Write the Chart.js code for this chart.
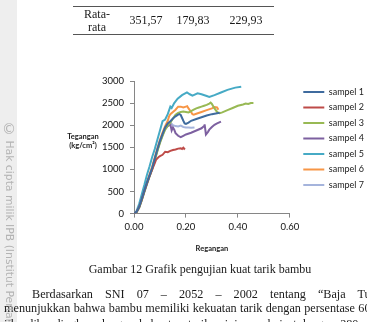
<!DOCTYPE html>
<html>
<head>
<meta charset="utf-8">
<script src="https://cdn.jsdelivr.net/npm/chart.js@4.4.1/dist/chart.umd.min.js"></script>
<style>
	html, body { margin: 0; padding: 0; width: 367px; height: 322px; overflow: hidden; background: #fff; }
	#page { position: relative; width: 367px; height: 322px; overflow: hidden; }
	#strip { position: absolute; left: 0; top: 0; width: 17px; height: 322px; background: #eeeeee; }
	#chart { position: absolute; left: 0; top: 0; }
	.serif { position: absolute; font-family: "Liberation Serif", "Times New Roman", serif; color: #1a1a1a; white-space: nowrap; }
	.rule { position: absolute; left: 73px; width: 201px; height: 1px; background: #555; }
	.cell { position: absolute; font-size: 12px; line-height: 13px; text-align: center; }
	.ytitle { position: absolute; font-family: Lato, "Open Sans", sans-serif; font-weight: bold; font-size: 7.5px; line-height: 9px; color: #222; text-align: center; width: 60px; left: 53px; top: 132px; }
	#mark { position: absolute; left: 1px; top: 121px; writing-mode: vertical-rl; font-family: "DejaVu Sans", sans-serif; font-size: 10.8px; color: #b4b4b4; white-space: nowrap; }
	#mark span { font-size: 14px; }
	.para { font-size: 12.2px; line-height: 14px; }
</style>
</head>
<body>
<div id="page">
	<div id="strip"></div>
	<canvas id="chart" width="367" height="322"></canvas>

	<div class="rule" style="top:6px"></div>
	<div class="rule" style="top:34px"></div>
	<div class="serif cell" style="left:77px; top:8px; width:40px;">Rata-<br>rata</div>
	<div class="serif cell" style="left:126px; top:14px; width:40px;">351,57</div>
	<div class="serif cell" style="left:173px; top:14px; width:40px;">179,83</div>
	<div class="serif cell" style="left:226px; top:14px; width:40px;">229,93</div>

	<div class="ytitle">Tegangan<br>(kg/cm²)</div>

	<div class="serif" style="left:0; width:400px; top:262px; font-size:12px; text-align:center;">Gambar 12 Grafik pengujian kuat tarik bambu</div>
	<div class="serif para" style="left:32px; top:287px; word-spacing:9px;">Berdasarkan SNI 07 – 2052 – 2002 tentang “Baja Tulangan Beton”</div>
	<div class="serif para" style="left:4px; top:301px; word-spacing:0.3px;">menunjukkan bahwa bambu memiliki kekuatan tarik dengan persentase 60</div>
	<div class="serif para" style="left:4px; top:317px; word-spacing:2px;">jika dibandingkan dengan kekuatan tarik minimum baja tulangan 280</div>

	<div id="mark"><span>©</span> Hak cipta milik IPB (Institut Pertanian Bogor)</div>
</div>

<script>
	// strain (Regangan) and stress (Tegangan, kg/cm2)
	var strain1 = [0, 0.01, 0.02, 0.03, 0.04, 0.05, 0.06, 0.07, 0.08, 0.09, 0.10, 0.11, 0.12, 0.13, 0.14, 0.15, 0.16, 0.17, 0.175, 0.18, 0.19, 0.195, 0.20, 0.21, 0.22, 0.24, 0.26, 0.28, 0.30, 0.32, 0.33];
	var stress1 = [0, 40, 150, 330, 520, 700, 860, 1030, 1240, 1450, 1640, 1800, 1950, 2040, 2090, 2150, 2200, 2240, 2250, 2230, 2100, 2040, 2030, 2060, 2100, 2140, 2180, 2220, 2250, 2270, 2280];

	var strain2 = [0, 0.01, 0.02, 0.03, 0.04, 0.05, 0.06, 0.07, 0.08, 0.085, 0.09, 0.095, 0.10, 0.11, 0.12, 0.13, 0.14, 0.15, 0.16, 0.17, 0.18, 0.185, 0.19, 0.196];
	var stress2 = [0, 40, 150, 320, 510, 680, 850, 1000, 1140, 1220, 1250, 1280, 1300, 1330, 1400, 1390, 1420, 1440, 1450, 1470, 1480, 1460, 1490, 1450];

	var strain3 = [0, 0.01, 0.02, 0.03, 0.04, 0.05, 0.06, 0.07, 0.08, 0.09, 0.10, 0.11, 0.12, 0.13, 0.14, 0.15, 0.16, 0.17, 0.18, 0.19, 0.20, 0.21, 0.22, 0.23, 0.24, 0.25, 0.26, 0.27, 0.28, 0.29, 0.295, 0.30, 0.31, 0.32, 0.325, 0.33, 0.34, 0.36, 0.38, 0.40, 0.42, 0.43, 0.44, 0.45, 0.46];
	var stress3 = [0, 30, 130, 300, 490, 670, 840, 1000, 1200, 1410, 1600, 1760, 1900, 1990, 2060, 2150, 2240, 2280, 2300, 2310, 2300, 2290, 2320, 2350, 2380, 2400, 2420, 2440, 2460, 2490, 2510, 2480, 2380, 2300, 2280, 2270, 2290, 2340, 2390, 2440, 2470, 2490, 2480, 2500, 2500];

	var strain4 = [0, 0.01, 0.02, 0.03, 0.04, 0.05, 0.06, 0.07, 0.08, 0.09, 0.10, 0.11, 0.12, 0.13, 0.14, 0.145, 0.15, 0.155, 0.16, 0.17, 0.18, 0.19, 0.20, 0.22, 0.24, 0.26, 0.27, 0.272, 0.277, 0.285, 0.29, 0.30, 0.31, 0.32, 0.335];
	var stress4 = [0, 30, 140, 310, 500, 680, 850, 1010, 1220, 1430, 1620, 1780, 1920, 1980, 2020, 1880, 1950, 1900, 1820, 1760, 1730, 1760, 1790, 1830, 1880, 1930, 1980, 2020, 1790, 1850, 1900, 1960, 2010, 2040, 2080];

	var strain5 = [0, 0.01, 0.02, 0.03, 0.04, 0.05, 0.06, 0.07, 0.08, 0.09, 0.10, 0.11, 0.12, 0.13, 0.14, 0.145, 0.155, 0.168, 0.185, 0.204, 0.215, 0.225, 0.245, 0.26, 0.28, 0.29, 0.31, 0.335, 0.36, 0.39, 0.413];
	var stress5 = [0, 60, 220, 440, 650, 880, 1070, 1280, 1460, 1670, 1880, 2090, 2130, 2250, 2420, 2390, 2500, 2600, 2680, 2740, 2700, 2670, 2720, 2700, 2660, 2640, 2680, 2740, 2800, 2850, 2870];

	var strain6 = [0, 0.01, 0.02, 0.03, 0.04, 0.05, 0.06, 0.07, 0.08, 0.09, 0.10, 0.11, 0.12, 0.13, 0.135, 0.14, 0.15, 0.16, 0.17, 0.18, 0.19, 0.20, 0.205, 0.21, 0.22, 0.225, 0.23, 0.24, 0.26, 0.28, 0.30, 0.31, 0.32, 0.325];
	var stress6 = [0, 40, 160, 340, 540, 720, 890, 1060, 1270, 1480, 1670, 1830, 1980, 2100, 2200, 2250, 2300, 2350, 2420, 2420, 2400, 2420, 2430, 2380, 2300, 2250, 2240, 2260, 2300, 2340, 2380, 2410, 2400, 2350];

	var strain7 = [0, 0.01, 0.02, 0.03, 0.04, 0.05, 0.06, 0.07, 0.08, 0.09, 0.10, 0.11, 0.12, 0.13, 0.14, 0.15, 0.16, 0.17, 0.18, 0.19, 0.20, 0.21, 0.22, 0.233];
	var stress7 = [0, 40, 150, 330, 530, 710, 880, 1040, 1250, 1460, 1650, 1810, 1960, 2020, 2060, 2000, 1980, 1970, 1990, 1960, 1950, 1950, 1940, 1950];

	var sampleNames = ["sampel 1", "sampel 2", "sampel 3", "sampel 4", "sampel 5", "sampel 6", "sampel 7"];
	var sampleColors = ["#3f6b9e", "#be4b48", "#98b954", "#7d60a0", "#46aac5", "#f79646", "#a5b4dc"];
	var strains = [strain1, strain2, strain3, strain4, strain5, strain6, strain7];
	var stresses = [stress1, stress2, stress3, stress4, stress5, stress6, stress7];

	var xTicks = [0, 0.2, 0.4, 0.6];
	var yTicks = [0, 500, 1000, 1500, 2000, 2500, 3000];

	var datasets = [];
	for (var i = 0; i < sampleNames.length; i++) {
		var points = [];
		for (var j = 0; j < strains[i].length; j++) {
			points.push({x: strains[i][j], y: stresses[i][j]});
		}
		datasets.push({
			label: sampleNames[i],
			data: points,
			borderColor: sampleColors[i],
			backgroundColor: sampleColors[i],
			borderWidth: 2,
			pointRadius: 0,
			tension: 0,
			fill: false
		});
	}

	//nudge the legend a bit to the right, like in the picture
	var legendShift = {
		id: "legendShift",
		afterLayout: function(chart) {
			chart.legend.left += 7;
			chart.legend.right += 7;
		}
	};

	var axisGrey = "#868686";
	var tickFont = {family: "Lato, 'Open Sans', sans-serif", size: 9.5};

	var ctx = document.getElementById("chart").getContext("2d");
	var myChart = new Chart(ctx, {
		type: "line",
		data: {datasets: datasets},
		plugins: [legendShift],
		options: {
			responsive: false,
			animation: false,
			devicePixelRatio: 1,
			layout: {padding: {left: 94, top: 81, right: 0, bottom: 59}},
			plugins: {
				tooltip: {enabled: false},
				legend: {
					position: "right",
					align: "start",
					fullSize: false,
					maxWidth: 80,
					labels: {
						usePointStyle: true,
						pointStyle: "line",
						pointStyleWidth: 21,
						padding: 6.5,
						color: "#222",
						font: {family: "Lato, 'Open Sans', sans-serif", size: 9}
					}
				}
			},
			scales: {
				x: {
					type: "linear",
					min: xTicks[0],
					max: xTicks[xTicks.length - 1],
					afterBuildTicks: function(scale) {
						scale.ticks = xTicks.map(function(v) { return {value: v}; });
					},
					ticks: {
						color: "#111",
						font: tickFont,
						padding: 4,
						maxRotation: 0,
						callback: function(v) { return Number(v).toFixed(2); }
					},
					grid: {drawOnChartArea: false, tickLength: 4, color: axisGrey},
					border: {color: axisGrey},
					title: {
						display: true,
						text: "Regangan",
						color: "#222",
						font: {family: "Lato, 'Open Sans', sans-serif", size: 7.5, weight: "bold"},
						padding: {top: 7, bottom: 10}
					}
				},
				y: {
					min: yTicks[0],
					max: yTicks[yTicks.length - 1],
					afterBuildTicks: function(scale) {
						scale.ticks = yTicks.map(function(v) { return {value: v}; });
					},
					afterFit: function(scale) {
						scale.width = 40;
					},
					ticks: {
						color: "#111",
						font: tickFont,
						padding: 6,
						callback: function(v) { return String(v); }
					},
					grid: {drawOnChartArea: false, tickLength: 4, color: axisGrey},
					border: {color: axisGrey}
				}
			}
		}
	});
</script>
</body>
</html>
